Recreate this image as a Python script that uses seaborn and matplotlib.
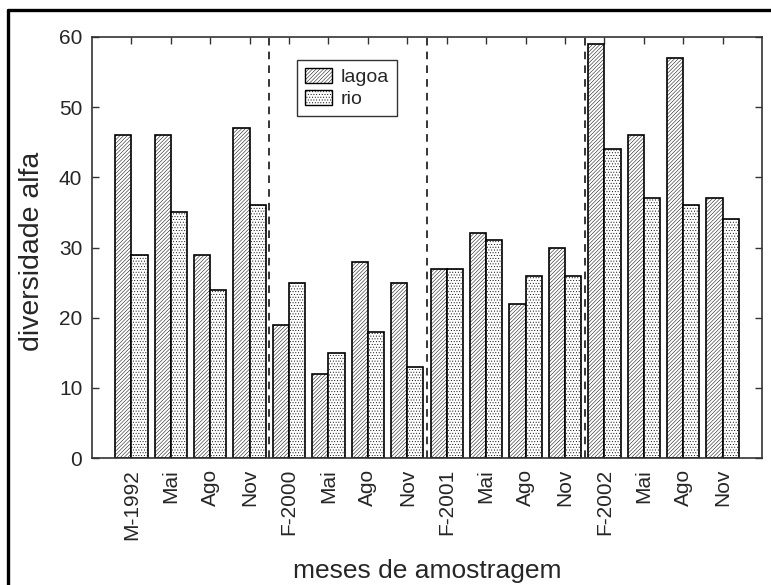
import matplotlib
matplotlib.use("Agg")
import matplotlib.pyplot as plt
import seaborn as sns
import pandas as pd
from matplotlib.lines import Line2D
from matplotlib.patches import Patch

# Sampling months (four campaigns) and alpha diversity per habitat
meses = ["M-1992", "Mai", "Ago", "Nov",
         "F-2000", "Mai", "Ago", "Nov",
         "F-2001", "Mai", "Ago", "Nov",
         "F-2002", "Mai", "Ago", "Nov"]
lagoa = [46, 46, 29, 47, 19, 12, 28, 25, 27, 32, 22, 30, 59, 46, 57, 37]
rio = [29, 35, 24, 36, 25, 15, 18, 13, 27, 31, 26, 26, 44, 37, 36, 34]
yticks = [0, 10, 20, 30, 40, 50, 60]

sns.set_theme(style="white")
plt.rcParams["font.family"] = ["Liberation Sans", "DejaVu Sans"]
plt.rcParams["hatch.linewidth"] = 0.35

n = len(meses)
df = pd.DataFrame({
    "idx": list(range(n)) * 2,
    "valor": lagoa + rio,
    "habitat": ["lagoa"] * n + ["rio"] * n,
})

fig = plt.figure(figsize=(7.71, 5.85), dpi=100)
ax = fig.add_axes([92 / 771, 1 - 458 / 585, (762 - 92) / 771, (458 - 37) / 585])

sns.barplot(data=df, x="idx", y="valor", hue="habitat", hue_order=["lagoa", "rio"],
            palette=["white", "white"], width=0.82, saturation=1,
            edgecolor="black", linewidth=1.2, legend=False, ax=ax)

hatches = {"lagoa": "/////////", "rio": "......"}
for cont, name in zip(ax.containers, ["lagoa", "rio"]):
    for bar in cont:
        bar.set_hatch(hatches[name])
        bar.set_edgecolor("black")

# Dashed separators between campaigns
for xs in [3.5, 7.5, 11.5]:
    ax.axvline(xs, color="black", linestyle=(0, (5, 4)), linewidth=1.1, zorder=0.5)

ax.set_xlim(-1, n)
ax.set_ylim(0, 60)
ax.set_yticks(yticks)
ax.set_xticks(range(n))
ax.set_xticklabels(meses, rotation=90)
ax.tick_params(axis="both", direction="in", length=5, width=1, labelsize=15,
               top=True, right=True, bottom=True, left=True, color="#333333")
ax.tick_params(axis="x", pad=8)
ax.tick_params(axis="y", pad=7)
for s in ax.spines.values():
    s.set_color("#333333")
    s.set_linewidth(1.2)

ax.set_xlabel("meses de amostragem", fontsize=19, labelpad=14)
ax.set_ylabel("diversidade alfa", fontsize=20.5)
ax.yaxis.set_label_coords(-0.070, 0.49)

handles = [Patch(facecolor="white", edgecolor="black", hatch=hatches["lagoa"], label="lagoa"),
           Patch(facecolor="white", edgecolor="black", hatch=hatches["rio"], label="rio")]
leg = ax.legend(handles=handles, loc="upper left",
                bbox_to_anchor=((297 - 92) / 670, 1 - (60 - 37) / 421),
                fontsize=14, frameon=True, fancybox=False, edgecolor="black",
                handlelength=1.4, handleheight=0.8, handletextpad=0.45, borderpad=0.4,
                labelspacing=0.2, borderaxespad=0)
leg.get_frame().set_linewidth(1.0)

# Outer frame (left and top edges)
fig.add_artist(Line2D([8 / 771, 8 / 771], [0, 1 - 10 / 585], color="black", linewidth=2.4,
                      transform=fig.transFigure))
fig.add_artist(Line2D([8 / 771, 1], [1 - 10 / 585, 1 - 10 / 585], color="black", linewidth=2.4,
                      transform=fig.transFigure))

fig.savefig("out.png", dpi=100)
